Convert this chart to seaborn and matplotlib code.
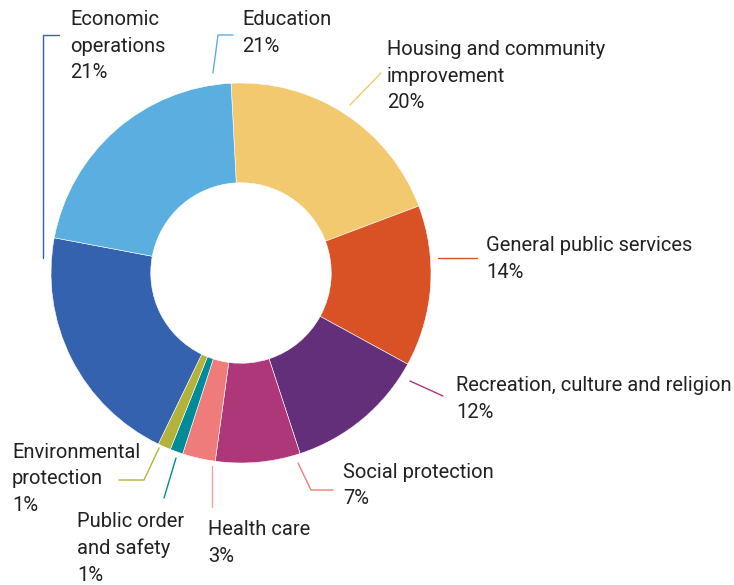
import matplotlib.pyplot as plt
import seaborn as sns
from matplotlib.lines import Line2D

# Dados do gráfico (percentuais)
categorias = ["Housing and community\nimprovement", "General public services",
              "Recreation, culture and religion", "Social protection", "Health care",
              "Public order\nand safety", "Environmental\nprotection",
              "Economic\noperations", "Education"]
valores = [20.1, 13.7, 12.0, 7.2, 2.8, 1.1, 1.1, 20.8, 21.2]
rotulos_pct = ["20%", "14%", "12%", "7%", "3%", "1%", "1%", "21%", "21%"]
cores = ["#F2C96E", "#D95226", "#642F7A", "#AE3779", "#F07B7B",
         "#008B98", "#B3B23A", "#3462AE", "#5AAFE0"]

sns.set_theme(style="white")
plt.rcParams["font.family"] = ["Roboto", "DejaVu Sans"]

W, H = 734, 585
fig = plt.figure(figsize=(W / 100, H / 100), dpi=100)

# Eixo da rosca: centro (241, 273) px, raio 190 px
cx, cy, r = 241, 273, 190
ax = fig.add_axes([(cx - r) / W, (H - cy - r) / H, 2 * r / W, 2 * r / H])
ax.pie(valores, colors=cores, startangle=93, counterclock=False,
       radius=1, wedgeprops=dict(width=0.525, edgecolor="white", linewidth=0.4))
ax.set_xlim(-1, 1)
ax.set_ylim(-1, 1)
ax.set_aspect("equal")
ax.axis("off")


def px(x, y):
    return x / W, 1 - y / H


# Posição dos rótulos (px) e linhas de chamada
pos_rotulos = [(387, 40), (486, 236), (456, 376), (343, 463), (208, 520),
               (77, 512), (12, 443), (70, 10), (242, 10)]
linhas = [
    ([381, 350], [73, 105], "#F2C96E"),
    ([438, 477], [258, 258], "#D95226"),
    ([410, 443], [381, 396], "#AE3779"),
    ([298, 311, 333], [463, 490, 490], "#F07B7B"),
    ([212, 212], [466, 507], "#F4A0A0"),
    ([176, 164], [458, 498], "#008B98"),
    ([159, 144, 119], [448, 480, 480], "#B3B23A"),
    ([59, 43, 43], [35, 35, 258], "#3462AE"),
    ([233, 218, 213], [35, 35, 73], "#5AAFE0"),
]

for cat, pct, (x, y) in zip(categorias, rotulos_pct, pos_rotulos):
    fx, fy = px(x, y)
    fig.text(fx, fy, cat + "\n" + pct, ha="left", va="top", fontsize=14.5,
             fontweight="normal", color="#222222", linespacing=1.5)

for xs, ys, c in linhas:
    fxs = [x / W for x in xs]
    fys = [1 - y / H for y in ys]
    fig.add_artist(Line2D(fxs, fys, color=c, linewidth=1, transform=fig.transFigure))

plt.savefig("out.png", dpi=100)
